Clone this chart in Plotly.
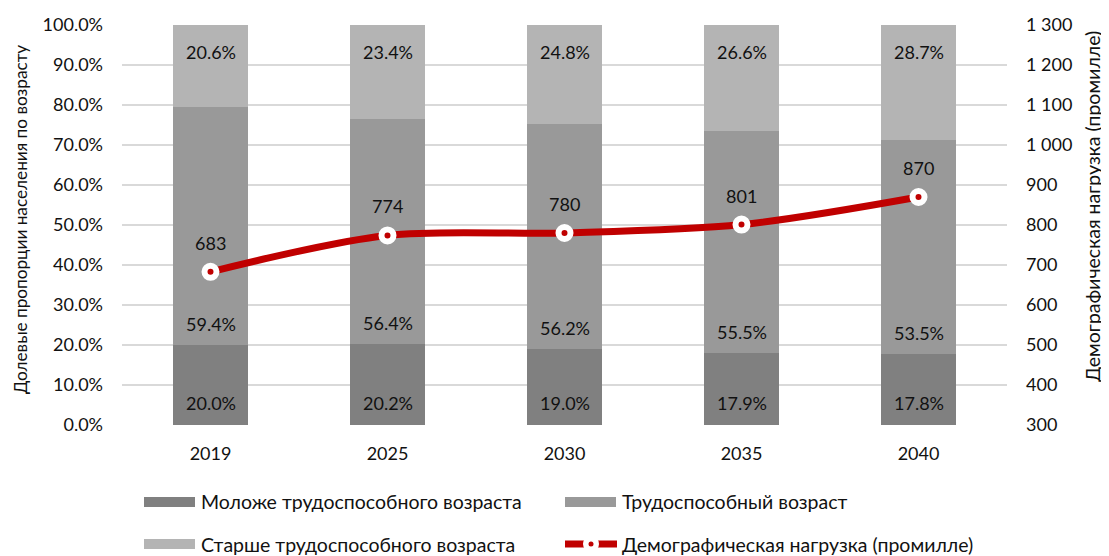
import plotly.graph_objects as go

years = ["2019", "2025", "2030", "2035", "2040"]
young = [20.0, 20.2, 19.0, 17.9, 17.8]
working = [59.4, 56.4, 56.2, 55.5, 53.5]
old = [20.6, 23.4, 24.8, 26.6, 28.7]
load = [683, 774, 780, 801, 870]

names = ["Моложе трудоспособного возраста", "Трудоспособный возраст",
         "Старше трудоспособного возраста", "Демографическая нагрузка (промилле)"]
ytitle_left = "Долевые пропорции населения по возрасту"
ytitle_right = "Демографическая нагрузка (промилле)"
colors = ["#808080", "#999999", "#b4b4b4"]
RED = "#c00000"
FONT = "Lato, 'Noto Sans', sans-serif"
TXT = "#111111"
FS = 18
FL = 19.5

# page offset (body margin) and plot area geometry in screen pixels
OFF = 8
W, H = 1109, 556
L, R, T, B = 122 - OFF, 1007 - OFF, 25 - OFF, 425 - OFF
def px(x):
    return (x - OFF - L) / (R - L)
def py(y):
    return (B - (y - OFF)) / (B - T)

fig = go.Figure()
for vals, nm, c in zip([young, working, old], names[:3], colors):
    fig.add_trace(go.Bar(x=years, y=[v / 100 for v in vals], name=nm,
                         marker=dict(color=c, line=dict(width=0)),
                         showlegend=False, hoverinfo="skip"))

fig.add_trace(go.Scatter(x=years, y=load, yaxis="y2", mode="lines+markers",
                         line=dict(color=RED, width=7, shape="spline", smoothing=0.9),
                         marker=dict(size=12, color=RED, line=dict(color="white", width=6)),
                         showlegend=False, hoverinfo="skip"))

ann = []
for i, yr in enumerate(years):
    f = dict(size=FS, color=TXT, family=FONT)
    ann.append(dict(x=i, y=0, yref="y", text=f"{young[i]:.1f}%", showarrow=False,
                    yshift=22, font=f))
    ann.append(dict(x=i, y=young[i] / 100, yref="y", text=f"{working[i]:.1f}%", showarrow=False,
                    yshift=21, font=f))
    ann.append(dict(x=i, y=1.0, yref="y", text=f"{old[i]:.1f}%", showarrow=False,
                    yshift=-27, font=f))
    ann.append(dict(x=i, y=load[i], yref="y2", text=str(load[i]), showarrow=False,
                    yshift=29, font=f))

# axis titles
ann.append(dict(xref="paper", yref="paper", x=px(20), y=py(220), text=ytitle_left,
                xanchor="center", yanchor="middle",
                textangle=-90, showarrow=False, font=dict(size=17.2, color=TXT, family=FONT)))
ann.append(dict(xref="paper", yref="paper", x=px(1093), y=py(207), text=ytitle_right,
                xanchor="center", yanchor="middle",
                textangle=-90, showarrow=False, font=dict(size=FL, color=TXT, family=FONT)))

# custom legend
shapes = []
ROW1, ROW2 = 502, 544
leg = [(144, ROW1, 0), (565, ROW1, 1), (144, ROW2, 2)]
for x0, yc, k in leg:
    shapes.append(dict(type="rect", xref="paper", yref="paper",
                       x0=px(x0), x1=px(x0 + 51), y0=py(yc + 5), y1=py(yc - 5),
                       fillcolor=colors[k], line=dict(width=0)))
    ann.append(dict(xref="paper", yref="paper", x=px(x0 + 55), y=py(yc), xanchor="left",
                    yanchor="middle", text=names[k], showarrow=False,
                    font=dict(size=FL, color=TXT, family=FONT)))
# line legend
yc = ROW2
shapes.append(dict(type="line", xref="paper", yref="paper", x0=px(565), x1=px(617),
                   y0=py(yc), y1=py(yc), line=dict(color=RED, width=7)))
shapes.append(dict(type="circle", xref="paper", yref="paper", x0=px(591 - 8), x1=px(591 + 8),
                   y0=py(yc + 8), y1=py(yc - 8), fillcolor="white", line=dict(width=0)))
shapes.append(dict(type="circle", xref="paper", yref="paper", x0=px(591 - 2.5), x1=px(591 + 2.5),
                   y0=py(yc + 2.5), y1=py(yc - 2.5), fillcolor=RED, line=dict(width=0)))
ann.append(dict(xref="paper", yref="paper", x=px(620), y=py(yc), xanchor="left",
                yanchor="middle", text=names[3], showarrow=False,
                font=dict(size=FL, color=TXT, family=FONT)))

fig.update_layout(
    width=W, height=H, barmode="stack", bargap=0.575,
    margin=dict(l=L, r=W - R, t=T, b=H - B, autoexpand=False),
    plot_bgcolor="white", paper_bgcolor="white",
    separators=". ",
    font=dict(family=FONT, size=FS, color=TXT),
    xaxis=dict(type="category", range=[-0.5, 4.5], showgrid=False, showline=False,
               ticklabelstandoff=16, tickfont=dict(size=FS)),
    yaxis=dict(range=[0, 1], tickvals=[i / 10 for i in range(11)], tickformat=".1%",
               gridcolor="#d9d9d9", gridwidth=1.5, zeroline=False, showline=False,
               ticklabelstandoff=18),
    yaxis2=dict(range=[300, 1300], tickvals=list(range(300, 1301, 100)), tickformat=",d",
                overlaying="y", side="right", showgrid=False, zeroline=False,
                ticklabelstandoff=18),
    annotations=ann, shapes=shapes,
)

fig.write_html("out.html")
